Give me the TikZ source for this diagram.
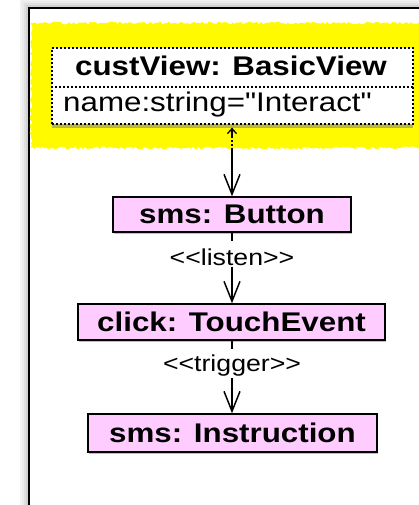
\documentclass[tikz,border=0pt]{standalone}
\usepackage{fontspec}
\setmainfont{Liberation Sans}[FakeStretch=1.16, Ligatures=TeXOff]
\usetikzlibrary{arrows.meta,shadows,decorations.pathmorphing}
\definecolor{pinkfill}{RGB}{255,204,255}
\definecolor{hl}{RGB}{255,250,0}
\tikzset{
  objbox/.style={draw=black, line width=1.3pt, fill=pinkfill, inner sep=0pt,
    font=\fontsize{27}{29}\selectfont\bfseries,
    drop shadow={shadow xshift=1pt, shadow yshift=-1.5pt, opacity=0.5}},
  stereo/.style={font=\fontsize{23}{25}\selectfont, inner sep=1pt},
  vee/.style={-{Straight Barb[length=20pt,width=16pt,line width=1.5pt]}, line width=1.5pt},
  dotline/.style={line width=1.3pt, dash pattern=on 2pt off 2pt}
}
\begin{document}
\begin{tikzpicture}[x=1pt,y=-1pt]
\useasboundingbox (0,0) rectangle (419,505);
% outer frame shadow
\foreach \d/\o in {8/0.05,6/0.08,4/0.12,2/0.18}{
  \draw[black, opacity=\o, line width=2pt] (29-\d,505) -- (29-\d,8-\d) -- (419,8-\d);
}
\draw[line width=1.5pt] (29,505) -- (29,8) -- (419,8);
% yellow highlight
\fill[hl, decorate, decoration={random steps,segment length=2pt,amplitude=1.5pt}] (31,23) rectangle (421,148);
\fill[hl] (36,28) rectangle (419,143);
% class box
\node[draw=black, dotline, fill=white, minimum width=361pt, minimum height=76pt, inner sep=0pt,
  drop shadow={shadow xshift=0pt, shadow yshift=-4pt, opacity=0.55}] (cv) at (232.5,86) {};
\draw[dotline] (cv.west |- 0,87) coordinate (dl) -- (cv.east |- 0,87) coordinate (dr);
\node[font=\fontsize{27}{29}\selectfont\bfseries, inner sep=0pt] (cvt) at (231,66) {custView: BasicView};
\node[font=\fontsize{27}{29}\selectfont, anchor=west, inner sep=0pt] (cva) at (63,105) {name:string="Interact"};
% objects
\node[objbox, minimum width=238pt, minimum height=35pt] (btn) at (232,214.5) {sms: Button};
\node[objbox, minimum width=307pt, minimum height=36pt] (tev) at (231.5,322) {click: TouchEvent};
\node[objbox, minimum width=289pt, minimum height=38pt] (ins) at (232.5,433) {sms: Instruction};
% connector custView - Button
\coordinate (m0) at ([yshift=-3pt]cv.south -| 232,0);
\draw[line width=1.3pt, -{Straight Barb[length=5pt,width=9pt,line width=1.3pt]}] (232,138) -- (m0);
\draw[dotline] (m0) -- ++(0,20) coordinate (m1);
\draw[vee] (m1) -- (btn.north -| 232,0);
% listen
\node[stereo] (lis) at (232,257) {<{}<listen>{}>};
\draw[line width=1.3pt] (btn.south -| 232,0) -- ++(0,8);
\draw[vee] (lis.south -| 232,0) -- (tev.north -| 232,0);
% trigger
\node[stereo] (trg) at (232,366) {<{}<trigger>{}>};
\draw[line width=1.3pt] (tev.south -| 232,0) -- ++(0,8);
\draw[vee] (trg.south -| 232,0) -- (ins.north -| 232,0);
\end{tikzpicture}
\end{document}
